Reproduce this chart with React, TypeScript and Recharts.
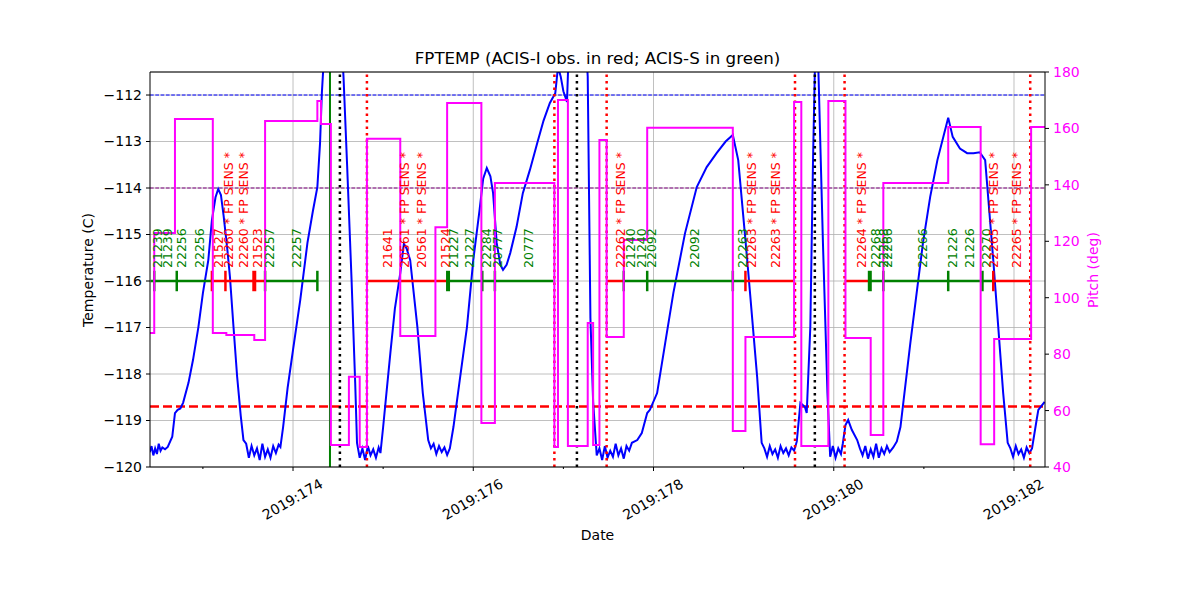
import React from 'react';
import {
  ComposedChart,
  Line,
  Scatter,
  XAxis,
  YAxis,
  CartesianGrid,
  ReferenceLine,
} from 'recharts';

// axis ranges (day of year 2019, deg C, deg)
const DAY_MIN = 172.413;
const DAY_MAX = 182.344;
const TEMP_MIN = -120;
const TEMP_MAX = -111.505;
const PITCH_MIN = 40;
const PITCH_MAX = 180;

const dateTicks = [173, 174, 175, 176, 177, 178, 179, 180, 181, 182];
const tempTicks = [-120, -119, -118, -117, -116, -115, -114, -113, -112];
const pitchTicks = [40, 60, 80, 100, 120, 140, 160, 180];

// limits
const YELLOW_LIMIT = -112;
const ACIS_LIMIT = -114;
const PLAN_LIMIT = -118.7;
const OBS_BAR = -116;
const LABEL_BASE = -115.72;

// FPTEMP (day, degC)
const fptemp: [number, number][] = [
  [172.41, -119.68], [172.43, -119.55], [172.45, -119.75], [172.47, -119.6], [172.49, -119.72],
  [172.51, -119.5], [172.53, -119.65], [172.55, -119.58], [172.58, -119.62], [172.61, -119.57],
  [172.66, -119.35], [172.69, -118.84], [172.72, -118.77], [172.75, -118.74], [172.78, -118.62],
  [172.84, -118.19], [172.89, -117.7], [172.95, -116.99], [173.0, -116.26], [173.06, -115.55],
  [173.1, -114.69], [173.14, -114.2], [173.17, -114.02], [173.2, -114.15], [173.23, -114.6],
  [173.27, -115.3], [173.3, -115.91], [173.34, -117.0], [173.38, -118.06], [173.42, -118.9],
  [173.45, -119.42], [173.48, -119.5], [173.51, -119.8], [173.54, -119.55], [173.57, -119.75],
  [173.6, -119.6], [173.63, -119.85], [173.66, -119.5], [173.69, -119.78], [173.72, -119.62],
  [173.75, -119.8], [173.78, -119.55], [173.81, -119.7], [173.84, -119.52], [173.86, -119.57],
  [173.89, -119.14], [173.94, -118.3], [174.0, -117.48], [174.08, -116.41], [174.16, -115.18],
  [174.22, -114.5], [174.27, -113.98], [174.3, -113.03], [174.32, -111.96], [174.36, -110.6],
  [174.45, -109.8], [174.53, -110.6], [174.56, -111.6], [174.6, -113.5], [174.65, -116.0],
  [174.69, -118.2], [174.71, -119.48], [174.74, -119.8], [174.77, -119.6], [174.8, -119.85],
  [174.83, -119.55], [174.86, -119.75], [174.89, -119.62], [174.92, -119.8], [174.95, -119.58],
  [174.97, -119.7], [175.0, -119.14], [175.04, -118.34], [175.08, -117.55], [175.13, -116.6],
  [175.19, -115.83], [175.23, -115.2], [175.26, -115.3], [175.3, -115.55], [175.38, -116.99],
  [175.44, -118.41], [175.5, -119.42], [175.53, -119.6], [175.56, -119.5], [175.59, -119.72],
  [175.62, -119.55], [175.65, -119.68], [175.68, -119.58], [175.71, -119.74], [175.74, -119.6],
  [175.78, -119.14], [175.85, -118.13], [175.93, -116.99], [176.0, -115.55], [176.07, -114.47],
  [176.11, -113.8], [176.15, -113.57], [176.19, -113.75], [176.22, -114.11], [176.26, -115.18],
  [176.3, -115.65], [176.33, -115.76], [176.37, -115.65], [176.41, -115.4], [176.48, -114.84],
  [176.55, -114.11], [176.63, -113.6], [176.71, -113.03], [176.78, -112.55], [176.85, -112.17],
  [176.91, -111.96], [176.94, -111.4], [176.97, -111.6], [177.0, -111.92], [177.04, -112.15],
  [177.06, -111.0], [177.15, -109.8], [177.24, -110.6], [177.27, -111.6], [177.3, -116.8],
  [177.33, -118.6], [177.37, -119.75], [177.4, -119.6], [177.43, -119.85], [177.46, -119.55],
  [177.49, -119.8], [177.52, -119.65], [177.55, -119.78], [177.58, -119.5], [177.61, -119.75],
  [177.64, -119.6], [177.67, -119.82], [177.7, -119.55], [177.73, -119.65], [177.76, -119.48],
  [177.82, -119.42], [177.87, -119.27], [177.93, -118.84], [177.96, -118.77], [178.04, -118.41],
  [178.13, -117.33], [178.22, -116.26], [178.35, -114.97], [178.48, -113.98], [178.59, -113.55],
  [178.7, -113.25], [178.8, -113.0], [178.88, -112.86], [178.94, -113.4], [179.04, -115.55],
  [179.15, -118.06], [179.2, -119.48], [179.23, -119.6], [179.26, -119.78], [179.29, -119.55],
  [179.32, -119.72], [179.35, -119.62], [179.38, -119.8], [179.41, -119.55], [179.44, -119.7],
  [179.47, -119.6], [179.5, -119.75], [179.53, -119.58], [179.56, -119.65], [179.59, -119.45],
  [179.63, -118.62], [179.68, -118.71], [179.7, -118.84], [179.74, -116.99], [179.77, -113.4],
  [179.79, -111.5], [179.81, -110.6], [179.83, -111.5], [179.88, -115.18], [179.93, -118.41],
  [179.96, -119.78], [179.99, -119.55], [180.02, -119.8], [180.05, -119.6], [180.08, -119.72],
  [180.1, -119.5], [180.13, -119.1], [180.16, -118.99], [180.2, -119.2], [180.26, -119.42],
  [180.29, -119.6], [180.32, -119.75], [180.35, -119.55], [180.38, -119.82], [180.41, -119.62],
  [180.44, -119.78], [180.47, -119.5], [180.5, -119.8], [180.53, -119.6], [180.56, -119.72],
  [180.59, -119.55], [180.62, -119.68], [180.66, -119.58], [180.7, -119.45], [180.74, -119.14],
  [180.85, -117.33], [180.99, -115.18], [181.07, -114.19], [181.15, -113.4], [181.27, -112.49],
  [181.32, -112.9], [181.4, -113.15], [181.48, -113.25], [181.55, -113.25], [181.62, -113.23],
  [181.68, -113.4], [181.77, -115.55], [181.88, -118.41], [181.93, -119.48], [181.96, -119.6],
  [181.99, -119.78], [182.02, -119.55], [182.05, -119.72], [182.08, -119.62], [182.11, -119.8],
  [182.14, -119.58], [182.17, -119.7], [182.2, -119.6], [182.25, -119.0], [182.27, -118.77],
  [182.34, -118.6],
];

// pitch (day, deg), each value holds until the next
const pitch: [number, number][] = [
  [172.41, 87.5], [172.46, 122.9], [172.69, 163.3], [173.11, 87.5], [173.26, 86.8],
  [173.57, 85.0], [173.69, 162.6], [174.27, 169.7], [174.31, 161.6], [174.42, 47.8],
  [174.62, 72.0], [174.74, 47.1], [174.82, 156.3], [175.19, 86.4], [175.58, 125.0],
  [175.71, 169.0], [176.09, 55.6], [176.24, 140.7], [176.9, 47.1], [176.94, 170.1],
  [177.05, 47.4], [177.27, 91.0], [177.33, 47.8], [177.4, 155.9], [177.48, 86.1],
  [177.67, 120.5], [177.93, 160.2], [178.88, 52.8], [179.02, 86.1], [179.56, 169.4],
  [179.64, 47.4], [179.94, 169.7], [180.13, 85.7], [180.41, 51.3], [180.55, 140.7],
  [181.27, 160.5], [181.63, 48.1], [181.78, 85.4], [182.19, 160.5], [182.344, 160.5],
];

// observations: instrument, start day, stop day
const observations: [string, number, number][] = [
  ['S', 172.42, 173.1], ['I', 173.1, 173.69], ['S', 173.69, 174.27],
  ['I', 174.82, 175.72], ['S', 175.72, 176.89], ['I', 177.48, 177.67],
  ['S', 177.67, 179.02], ['I', 179.02, 179.56], ['I', 180.12, 180.4],
  ['S', 180.4, 181.77], ['I', 181.77, 182.18],
];

const obsBoundaries: [string, number][] = [
  ['S', 172.46], ['S', 172.71], ['I', 173.1], ['I', 173.25], ['I', 173.57],
  ['S', 173.69], ['S', 174.27], ['S', 175.72], ['S', 176.1], ['S', 176.24],
  ['S', 177.67], ['S', 177.93], ['S', 178.88], ['I', 179.02],
  ['S', 180.4], ['S', 180.55], ['S', 181.27], ['S', 181.65], ['I', 181.77],
];
const boldBoundaries = [173.57, 175.72, 180.4];

const obsLabels: [string, number, string][] = [
  ['S', 172.5, '21239'], ['S', 172.61, '21239'], ['S', 172.76, '22256'], ['S', 172.96, '22256'],
  ['I', 173.17, '21527'], ['I', 173.28, '22260 * FP SENS *'], ['I', 173.45, '22260 * FP SENS *'],
  ['I', 173.61, '21523'], ['S', 173.74, '22257'], ['S', 174.04, '22257'],
  ['I', 175.05, '21641'], ['I', 175.24, '20561 * FP SENS *'], ['I', 175.43, '20561 * FP SENS *'],
  ['I', 175.69, '21524'], ['S', 175.78, '21227'], ['S', 175.96, '21227'], ['S', 176.15, '22284'],
  ['S', 176.27, '20777'], ['S', 176.61, '20777'],
  ['I', 177.63, '22262 * FP SENS *'], ['S', 177.74, '21240'], ['S', 177.87, '21240'],
  ['S', 177.98, '22092'], ['S', 178.46, '22092'], ['S', 178.99, '22263'],
  ['I', 179.09, '22263 * FP SENS *'], ['I', 179.35, '22263 * FP SENS *'],
  ['I', 180.31, '22264 * FP SENS *'], ['S', 180.46, '22268'], ['S', 180.55, '22268'],
  ['S', 180.6, '22266'], ['S', 180.98, '22266'], ['S', 181.32, '21226'], ['S', 181.51, '21226'],
  ['S', 181.7, '22270'], ['I', 181.77, '22265 * FP SENS *'], ['I', 182.03, '22265 * FP SENS *'],
];

// event markers
const perigeeTimes = [174.52, 177.15, 179.79];
const radZoneEdges = [174.82, 176.9, 177.48, 179.57, 180.12, 182.18];
const loadStart = 174.41;
const gridDays = [174, 176, 178, 180, 182];

const INSTR_COLOR: Record<string, string> = { I: '#ff0000', S: '#008000' };

const tempData = fptemp.map(([t, v]) => ({ t, v }));
const pitchData = pitch.map(([t, v]) => ({ t, v }));
const labelData = obsLabels.map(([instr, t, text]) => ({ t, v: LABEL_BASE, instr, text }));

const fmtMinus = (v: number) => (v < 0 ? `\u2212${Math.abs(v)}` : `${v}`);

function DateTick({ x, y, payload }: any) {
  const major = payload.value % 2 === 0;
  const ly = y + 33;
  return (
    <g>
      <line x1={x} x2={x} y1={y} y2={y + (major ? 4 : 2)} stroke="#000" strokeWidth={1} />
      {major && (
        <text
          x={x}
          y={ly}
          textAnchor="middle"
          dominantBaseline="middle"
          transform={`rotate(-30 ${x} ${ly})`}
          fontSize={14}
          fill="#000"
        >
          {`2019:${payload.value}`}
        </text>
      )}
    </g>
  );
}

function ObsLabel(props: any) {
  const { cx, cy, payload } = props;
  return (
    <text
      x={cx}
      y={cy}
      dy={4.5}
      transform={`rotate(-90 ${cx} ${cy})`}
      fontSize={12.5}
      fill={INSTR_COLOR[payload.instr]}
    >
      {payload.text}
    </text>
  );
}

export default function App() {
  return (
    <div
      style={{
        position: 'absolute',
        left: 0,
        top: 0,
        width: 1200,
        height: 600,
        background: '#fff',
        fontFamily: 'DejaVu Sans',
      }}
    >
      <ComposedChart
        width={1200}
        height={600}
        margin={{ top: 72, right: 95, bottom: 73, left: 90 }}
        style={{ fontFamily: 'DejaVu Sans' }}
      >
        <CartesianGrid yAxisId="left" vertical={false} stroke="#b0b0b0" strokeWidth={0.8} />
        <XAxis
          dataKey="t"
          type="number"
          domain={[DAY_MIN, DAY_MAX]}
          allowDataOverflow
          ticks={dateTicks}
          interval={0}
          tick={<DateTick />}
          tickLine={false}
          tickSize={0}
          tickMargin={0}
          height={60}
          axisLine={{ stroke: '#000', strokeWidth: 1 }}
        />
        <YAxis
          yAxisId="left"
          type="number"
          domain={[TEMP_MIN, TEMP_MAX]}
          allowDataOverflow
          ticks={tempTicks}
          interval={0}
          tickFormatter={fmtMinus}
          tick={{ fill: '#000', fontSize: 14 }}
          tickLine={{ stroke: '#000' }}
          tickSize={4}
          tickMargin={4}
          width={60}
          axisLine={{ stroke: '#000', strokeWidth: 1 }}
        />
        <YAxis
          yAxisId="right"
          orientation="right"
          type="number"
          domain={[PITCH_MIN, PITCH_MAX]}
          allowDataOverflow
          ticks={pitchTicks}
          interval={0}
          tick={{ fill: '#ff00ff', fontSize: 14 }}
          tickLine={{ stroke: '#000' }}
          tickSize={4}
          tickMargin={4}
          width={60}
          axisLine={{ stroke: '#000', strokeWidth: 1 }}
        />

        {gridDays.map((d) => (
          <ReferenceLine key={`g${d}`} x={d} yAxisId="left" stroke="#b0b0b0" strokeWidth={0.8} />
        ))}

        <ReferenceLine y={YELLOW_LIMIT} yAxisId="left" stroke="#0000ff" strokeWidth={1} strokeDasharray="3.7 1.6" />
        <ReferenceLine y={ACIS_LIMIT} yAxisId="left" stroke="#800080" strokeWidth={1} strokeDasharray="3.7 1.6" />
        <ReferenceLine y={PLAN_LIMIT} yAxisId="left" stroke="#ff0000" strokeWidth={2.5} strokeDasharray="9 4" />

        <Line
          data={tempData}
          dataKey="v"
          yAxisId="left"
          type="linear"
          stroke="#0000ff"
          strokeWidth={2}
          dot={false}
          isAnimationActive={false}
        />

        {observations.map(([instr, a, b], i) => (
          <ReferenceLine
            key={`o${i}`}
            yAxisId="left"
            segment={[{ x: a, y: OBS_BAR }, { x: b, y: OBS_BAR }]}
            stroke={INSTR_COLOR[instr]}
            strokeWidth={2.5}
          />
        ))}
        {obsBoundaries.map(([instr, d], i) => (
          <ReferenceLine
            key={`b${i}`}
            yAxisId="left"
            segment={[{ x: d, y: OBS_BAR - 0.22 }, { x: d, y: OBS_BAR + 0.22 }]}
            stroke={INSTR_COLOR[instr]}
            strokeWidth={boldBoundaries.includes(d) ? 4 : 2.5}
          />
        ))}

        <ReferenceLine x={loadStart} yAxisId="left" stroke="#008000" strokeWidth={2} />
        {radZoneEdges.map((d) => (
          <ReferenceLine key={`r${d}`} x={d} yAxisId="left" stroke="#ff0000" strokeWidth={2.5} strokeDasharray="2.5 4" />
        ))}
        {perigeeTimes.map((d) => (
          <ReferenceLine key={`p${d}`} x={d} yAxisId="left" stroke="#000" strokeWidth={2.5} strokeDasharray="2.5 4" />
        ))}

        <Scatter
          data={labelData}
          dataKey="v"
          yAxisId="left"
          shape={<ObsLabel />}
          isAnimationActive={false}
        />

        <Line
          data={pitchData}
          dataKey="v"
          yAxisId="right"
          type="stepAfter"
          stroke="#ff00ff"
          strokeWidth={2}
          dot={false}
          isAnimationActive={false}
        />

        <ReferenceLine y={PITCH_MAX} yAxisId="right" stroke="#000" strokeWidth={1} />
      </ComposedChart>

      {/* title and axis labels */}
      <div
        style={{
          position: 'absolute',
          left: 150,
          width: 895,
          top: 47,
          textAlign: 'center',
          fontSize: 16.7,
          lineHeight: '22px',
          color: '#000',
        }}
      >
        FPTEMP (ACIS-I obs. in red; ACIS-S in green)
      </div>
      <div
        style={{
          position: 'absolute',
          left: 150,
          width: 895,
          top: 526,
          textAlign: 'center',
          fontSize: 14,
          lineHeight: '18px',
        }}
      >
        Date
      </div>
      <div
        style={{
          position: 'absolute',
          left: 88,
          top: 270,
          transform: 'translate(-50%, -50%) rotate(-90deg)',
          whiteSpace: 'nowrap',
          fontSize: 14,
          lineHeight: '18px',
        }}
      >
        Temperature (C)
      </div>
      <div
        style={{
          position: 'absolute',
          left: 1093,
          top: 270,
          transform: 'translate(-50%, -50%) rotate(-90deg)',
          whiteSpace: 'nowrap',
          fontSize: 14,
          lineHeight: '18px',
          color: '#ff00ff',
        }}
      >
        Pitch (deg)
      </div>
    </div>
  );
}
